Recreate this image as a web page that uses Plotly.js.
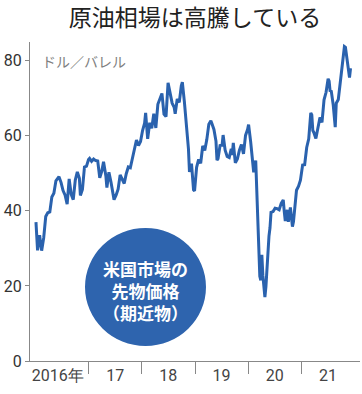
<!DOCTYPE html>
<html>
<head>
<meta charset="utf-8">
<script src="https://cdn.plot.ly/plotly-3.0.1.min.js"></script>
<style>
html,body{margin:0;padding:0;background:#fff;}
#chart{width:362px;height:394px;}
</style>
</head>
<body>
<div id="chart"></div>
<script>
var dates = [
'2016-01-04','2016-01-15','2016-01-29','2016-02-12','2016-02-26','2016-03-11','2016-03-25','2016-04-08','2016-04-22','2016-05-06','2016-05-20','2016-06-03','2016-06-10','2016-06-24','2016-07-08','2016-07-22','2016-08-05','2016-08-19','2016-09-02','2016-09-16','2016-09-30','2016-10-14','2016-10-28','2016-11-04','2016-11-18','2016-12-02','2016-12-16','2016-12-30',
'2017-01-06','2017-01-20','2017-02-03','2017-02-17','2017-03-03','2017-03-17','2017-03-31','2017-04-12','2017-04-28','2017-05-05','2017-05-19','2017-06-02','2017-06-16','2017-06-23','2017-07-07','2017-07-21','2017-08-04','2017-08-18','2017-09-01','2017-09-15','2017-09-29','2017-10-13','2017-10-27','2017-11-10','2017-11-24','2017-12-08','2017-12-22',
'2018-01-05','2018-01-19','2018-01-26','2018-02-09','2018-02-23','2018-03-09','2018-03-23','2018-04-06','2018-04-20','2018-05-04','2018-05-18','2018-06-01','2018-06-15','2018-06-29','2018-07-13','2018-07-27','2018-08-10','2018-08-17','2018-08-31','2018-09-14','2018-09-28','2018-10-05','2018-10-19','2018-11-02','2018-11-16','2018-11-23','2018-12-07','2018-12-21','2018-12-28',
'2019-01-11','2019-01-25','2019-02-08','2019-02-22','2019-03-08','2019-03-22','2019-04-05','2019-04-19','2019-04-26','2019-05-10','2019-05-24','2019-05-31','2019-06-07','2019-06-21','2019-07-05','2019-07-12','2019-07-26','2019-08-09','2019-08-23','2019-09-06','2019-09-13','2019-09-20','2019-10-04','2019-10-18','2019-11-01','2019-11-15','2019-11-29','2019-12-13','2019-12-27',
'2020-01-03','2020-01-17','2020-01-31','2020-02-07','2020-02-21','2020-02-28','2020-03-06','2020-03-13','2020-03-20','2020-03-27','2020-04-03','2020-04-10','2020-04-17','2020-04-24','2020-05-01','2020-05-08','2020-05-15','2020-05-22','2020-05-29','2020-06-05','2020-06-19','2020-07-03','2020-07-17','2020-07-31','2020-08-14','2020-08-28','2020-09-04','2020-09-11','2020-09-25','2020-10-02','2020-10-16','2020-10-30','2020-11-06','2020-11-13','2020-11-27','2020-12-11','2020-12-24',
'2021-01-08','2021-01-22','2021-02-05','2021-02-19','2021-03-05','2021-03-12','2021-03-19','2021-03-26','2021-04-09','2021-04-23','2021-05-07','2021-05-21','2021-06-04','2021-06-18','2021-07-02','2021-07-09','2021-07-16','2021-07-23','2021-08-06','2021-08-20','2021-08-27','2021-09-10','2021-09-24','2021-10-08','2021-10-22','2021-10-29','2021-11-05','2021-11-19','2021-11-26','2021-12-03'
];
var prices = [
37,29.5,33.5,29.4,32.8,38.5,39.5,39.7,43.7,44.7,48,48.6,49.1,47.6,45.4,44.2,41.8,48.5,44.4,43,48.2,50.4,48.7,44.1,45.7,51.7,51.9,53.7,
54,53.2,53.8,53.4,53.3,48.8,50.6,53.1,49.3,46.2,50.3,47.7,44.7,43,44.2,45.8,49.6,48.5,47.3,49.9,51.7,51.5,53.9,56.7,58.9,57.4,58.5,
61.4,63.4,66.1,59.2,63.5,62,65.9,62.1,68.4,69.7,71.3,65.8,65.1,74.1,71,68.7,67.6,65.9,69.8,68.9,73.3,74.3,69.1,63.1,56.5,50.4,52.6,45.6,45.3,
51.6,53.7,52.7,57.3,56.1,59,63.1,64,63.3,61.7,58.6,53.5,53.9,57.4,57.5,60.2,56.2,54.5,54.2,56.5,54.9,58.1,52.8,53.8,56.2,57.7,55.2,60.1,61.7,
63,58.5,51.6,50.3,53.4,45.3,41.3,31.7,22.6,21.5,28.3,22.8,18.3,17,19.8,24.7,29.4,33.3,35.5,39.6,39.8,40.7,40.6,40.3,42,42.9,39.8,37.3,40.3,37.1,40.9,35.8,37.1,40.1,45.5,46.6,48.2,
52.2,52.3,56.9,59.2,66.1,65.6,61.4,60.9,59.3,62.1,64.9,63.6,69.6,71.6,75.2,74.6,71.8,72.1,68.3,62.3,68.7,69.7,73.9,79.4,83.8,83.6,81.3,76.1,75.5,78
];
var yTicks = [0,20,40,60,80];
var xLabelPos = ['2016-06-01','2017-07-01','2018-07-01','2019-07-01','2020-07-01','2021-07-01'];
var xLabels = ['2016年','17','18','19','20','21'];
var yearBounds = ['2017-01-01','2018-01-01','2019-01-01','2020-01-01','2021-01-01'];
var titleText = '原油相場は高騰している';
var unitText = 'ドル／バレル';
var badgeLines = ['米国市場の','先物価格','（期近物）'];

var trace = {
  x: dates, y: prices, type: 'scatter', mode: 'lines',
  line: {color: '#2a62ae', width: 3},
  hoverinfo: 'skip'
};

var annotations = [
  {text: unitText, xref: 'paper', yref: 'y', x: 0.03, y: 80, xanchor: 'left', yanchor: 'middle', showarrow: false,
   font: {family: 'Noto Sans CJK JP', size: 14, color: '#808080'}},
  {text: '<b>' + badgeLines.join('<br>') + '</b>', xref: 'paper', yref: 'paper', x: 0.35, y: 0.222, xanchor: 'center', yanchor: 'middle', showarrow: false,
   align: 'center', font: {family: 'Noto Sans CJK JP', size: 17, color: '#ffffff'}}
];

var layout = {
  width: 362, height: 394,
  margin: {l: 30, r: 2, t: 42, b: 33},
  paper_bgcolor: '#fff', plot_bgcolor: '#fff',
  showlegend: false,
  title: {text: titleText, x: 0.5, xref: 'paper', xanchor: 'center', y: 0.955, yanchor: 'middle',
    font: {family: 'Noto Sans CJK JP', size: 23, color: '#222'}},
  xaxis: {
    type: 'date', range: ['2015-11-24', '2022-02-06'],
    showgrid: false, zeroline: false, showline: true, linecolor: '#888', linewidth: 1,
    tickmode: 'array', tickvals: xLabelPos, ticktext: xLabels, ticks: '',
    tickfont: {family: 'Roboto', size: 16, color: '#444'},
    minor: {tickmode: 'array', tickvals: yearBounds, ticks: 'outside', ticklen: 12, tickcolor: '#888', tickwidth: 1, showgrid: false}
  },
  yaxis: {
    range: [0, 85], showgrid: false, zeroline: false, showline: true, linecolor: '#888', linewidth: 1,
    tickmode: 'array', tickvals: yTicks, ticks: 'outside', ticklen: 4, tickcolor: '#888',
    tickfont: {family: 'Roboto', size: 16, color: '#333'}
  },
  shapes: [
    {type: 'circle', xref: 'paper', yref: 'paper', x0: 0.1667, x1: 0.5333, y0: 0.047, y1: 0.417,
     fillcolor: '#2e64ae', line: {width: 0}, layer: 'above'}
  ],
  annotations: annotations
};

Plotly.newPlot('chart', [trace], layout, {staticPlot: true, displayModeBar: false});
</script>
</body>
</html>
